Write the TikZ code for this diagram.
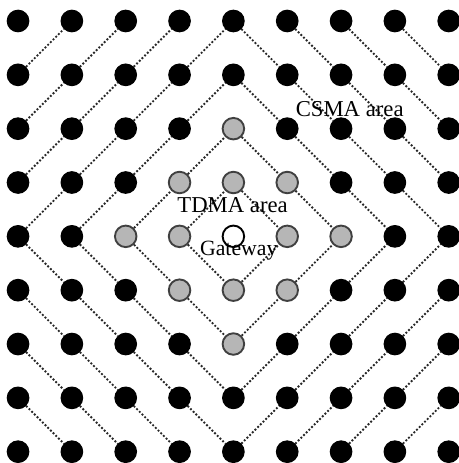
\documentclass[tikz,border=0pt]{standalone}
\usepackage{fontspec}
\setmainfont{Liberation Serif}
\usepackage{xcolor}
\usepackage{tikz}
\usetikzlibrary{backgrounds}
\definecolor{TDc}{RGB}{182,182,182}
\definecolor{RingC}{RGB}{40,40,40}
\tikzset{
  csma/.style={circle,fill=black,draw=black,line width=0.6pt,minimum size=4mm,inner sep=0pt},
  tdma/.style={circle,fill=TDc,draw=black!75,line width=1pt,minimum size=4mm,inner sep=0pt},
  gw/.style={circle,fill=white,draw=black,line width=1pt,minimum size=4mm,inner sep=0pt},
  ring/.style={densely dotted,line width=1pt,RingC},
  lbl/.style={font=\fontsize{12}{14}\selectfont,inner sep=1pt},
}

\begin{document}
\begin{tikzpicture}
  \useasboundingbox (-0.335,0.39) rectangle (8.19,-8.21);
  % grid of nodes, style by hop distance from the gateway
  \foreach \c in {0,...,8}{
    \foreach \r in {0,...,8}{
      \pgfmathtruncatemacro{\d}{abs(\c-4)+abs(\r-4)}
      \ifnum\d=0 \def\sty{gw}\else\ifnum\d<3 \def\sty{tdma}\else\def\sty{csma}\fi\fi
      \node[\sty] (n-\c-\r) at (\c,-\r) {};
    }
  }
  % dotted diamond rings
  \begin{scope}[on background layer]
    \foreach \c in {0,...,7}{
      \foreach \r in {0,...,8}{
        \pgfmathtruncatemacro{\d}{abs(\c-4)+abs(\r-4)}
        \pgfmathtruncatemacro{\dn}{abs(\c-3)+abs(\r-3)}
        \pgfmathtruncatemacro{\up}{abs(\c-3)+abs(\r-5)}
        \pgfmathtruncatemacro{\rn}{\r+1}
        \pgfmathtruncatemacro{\ru}{\r-1}
        \pgfmathtruncatemacro{\cn}{\c+1}
        \ifnum\r<8 \ifnum\d=\dn \draw[ring] (n-\c-\r) -- (n-\cn-\rn); \fi\fi
        \ifnum\r>0 \ifnum\d=\up \draw[ring] (n-\c-\r) -- (n-\cn-\ru); \fi\fi
      }
    }
  \end{scope}
  \node[lbl] (csma) at (6.16,-1.645) {CSMA area};
  \node[lbl] (tdma) at (3.985,-3.42) {TDMA area};
  \node[lbl,font=\fontsize{11.5}{13}\selectfont] (gwl) at (4.1,-4.26) {Gateway};
\end{tikzpicture}
\end{document}
